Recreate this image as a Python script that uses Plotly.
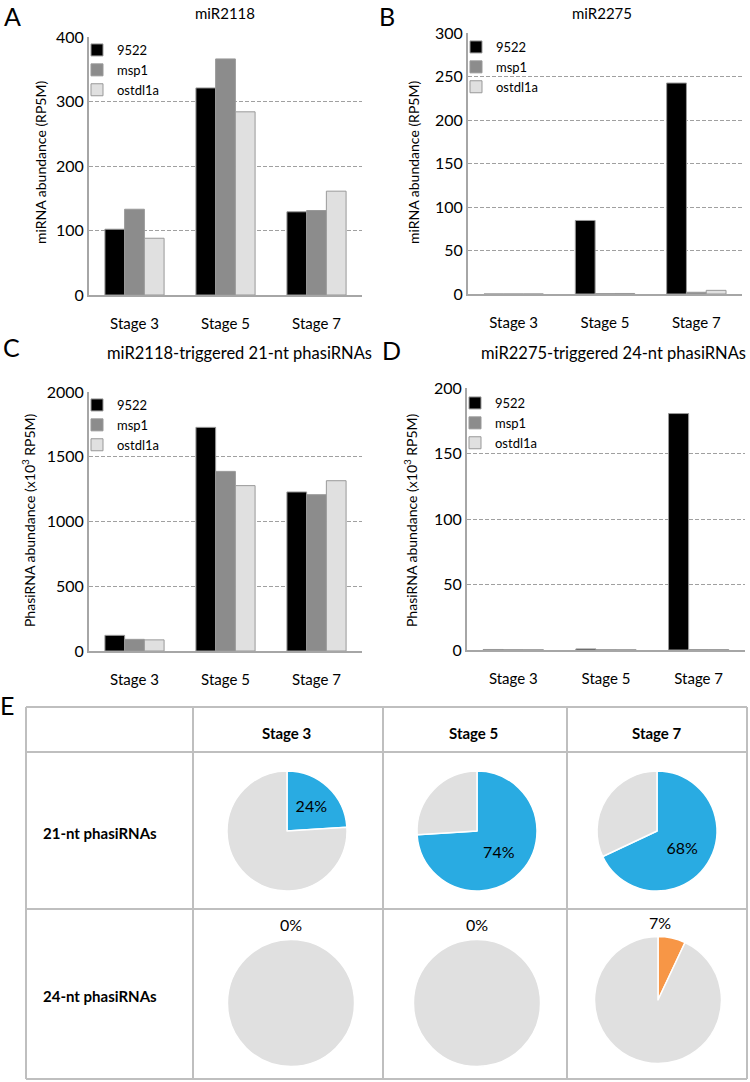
import plotly.graph_objects as go
import math

W, H = 750, 1082
FONT = "Lato"

stages = ["Stage 3", "Stage 5", "Stage 7"]
genotypes = ["9522", "msp1", "ostdl1a"]
bar_colors = ["#000000", "#8c8c8c", "#e0e0e0"]

# Panel A: miR2118 abundance (RP5M)
mir2118 = {"9522": [102, 321, 129], "msp1": [133, 366, 131], "ostdl1a": [88, 284, 161]}
# Panel B: miR2275 abundance (RP5M)
mir2275 = {"9522": [0, 84.5, 242.5], "msp1": [0, 0.4, 2.0], "ostdl1a": [0, 0.6, 4.2]}
# Panel C: 21-nt phasiRNAs (x10^3 RP5M)
phas21 = {"9522": [121, 1727, 1228], "msp1": [90, 1387, 1207], "ostdl1a": [86, 1277, 1315]}
# Panel D: 24-nt phasiRNAs (x10^3 RP5M)
phas24 = {"9522": [0.4, 0.8, 180.5], "msp1": [0.2, 0.2, 0.3], "ostdl1a": [0.2, 0.2, 0.3]}

# Panel E: pie percentages
pct21 = [24, 74, 68]
pct24 = [0, 0, 7]

def px_x(x):
    return x / W

def px_y(y):
    return 1 - y / H

fig = go.Figure()

panels = [
    (mir2118, "", "legend", (89, 362), (37, 295), 400, 100),
    (mir2275, "2", "legend2", (468, 742), (33, 294), 300, 50),
    (phas21, "3", "legend3", (89, 362), (392, 651), 2000, 500),
    (phas24, "4", "legend4", (467, 745), (388, 650), 200, 50),
]

layout_axes = {}
for data, ax, leg, (x0, x1), (y0, y1), ymax, dt in panels:
    for g, c in zip(genotypes, bar_colors):
        fig.add_trace(go.Bar(
            x=stages, y=data[g], name=g, marker=dict(color=c, line=dict(color="#999999", width=1)),
            xaxis="x" + ax, yaxis="y" + ax, legend=leg, showlegend=True, hoverinfo="skip",
        ))
    layout_axes["xaxis" + ax] = dict(
        domain=[px_x(x0), px_x(x1)], anchor="y" + ax, showline=True, linecolor="#a6a6a6", linewidth=2,
        ticks="", tickfont=dict(family=FONT, size=15, color="#000"), ticklabelstandoff=14,
        showgrid=False, automargin=False,
    )
    layout_axes["yaxis" + ax] = dict(
        domain=[px_y(y1), px_y(y0)], anchor="x" + ax, range=[0, ymax], dtick=dt,
        showline=True, linecolor="#a6a6a6", linewidth=2, ticks="",
        tickfont=dict(family=FONT, size=16, color="#000"), automargin=False,
        showgrid=True, gridcolor="#a0a0a0", griddash="4px,2px", gridwidth=1, zeroline=False,
    )

fig.update_layout(**layout_axes)

legend_style = dict(font=dict(family=FONT, size=13, color="#000"), bgcolor="rgba(0,0,0,0)",
                    xanchor="left", yanchor="top", tracegroupgap=0, itemwidth=30)
fig.update_layout(
    legend=dict(x=px_x(77), y=px_y(35), **legend_style),
    legend2=dict(x=px_x(456), y=px_y(32), **legend_style),
    legend3=dict(x=px_x(77), y=px_y(390), **legend_style),
    legend4=dict(x=px_x(455), y=px_y(388), **legend_style),
)

# white patch behind legend B (legend box hides grid line)
shapes = [dict(type="rect", xref="paper", yref="paper", x0=px_x(470), x1=px_x(557), y0=px_y(98),
               y1=px_y(40), fillcolor="white", line=dict(width=0), layer="between")]

# Table lines for panel E
tc = "#bfbfbf"
tx = [26, 193, 383, 567, 747]
ty = [707, 752, 909, 1079]
for x in tx:
    shapes.append(dict(type="line", xref="paper", yref="paper", x0=px_x(x), x1=px_x(x),
                       y0=px_y(ty[0]), y1=px_y(ty[-1]), line=dict(color=tc, width=2)))
for y in ty:
    shapes.append(dict(type="line", xref="paper", yref="paper", x0=px_x(tx[0]), x1=px_x(tx[-1]),
                       y0=px_y(y), y1=px_y(y), line=dict(color=tc, width=2)))

# Pies
blue, grey, orange = "#29abe2", "#e0e0e0", "#f79646"
row1_centers = [(287, 831), (477, 831), (657, 831)]
row2_centers = [(291, 1003), (477, 1003), (658, 1000)]
r1, r2 = 60, 63.5

annotations = []
for v, (cx, cy) in zip(pct21, row1_centers):
    fig.add_trace(go.Pie(
        values=[v, 100 - v], marker=dict(colors=[blue, grey], line=dict(color="white", width=1.5)),
        sort=False, direction="clockwise", rotation=0, showlegend=False,
        text=[f"{v}%", " "], textinfo="text", textposition="inside", insidetextorientation="horizontal",
        textfont=dict(family=FONT, size=16, color="#000"), hoverinfo="skip",
        domain=dict(x=[px_x(cx - r1), px_x(cx + r1)], y=[px_y(cy + r1), px_y(cy - r1)]),
    ))
for v, (cx, cy) in zip(pct24, row2_centers):
    fig.add_trace(go.Pie(
        values=[v, 100 - v], marker=dict(colors=[orange, grey], line=dict(color="white", width=1.5)),
        sort=False, direction="clockwise", rotation=0, showlegend=False, textinfo="none",
        hoverinfo="skip",
        domain=dict(x=[px_x(cx - r2), px_x(cx + r2)], y=[px_y(cy + r2), px_y(cy - r2)]),
    ))
    ang = math.radians(v / 2 * 3.6)
    rr = r2 + 4
    annotations.append(dict(x=px_x(cx + rr * math.sin(ang)), y=px_y(cy - rr * math.cos(ang)),
                            xref="paper", yref="paper", text=f"{v}%", showarrow=False,
                            yanchor="bottom", font=dict(family=FONT, size=16, color="#000")))

def ann(x, y, text, size, bold=False, angle=0, xanchor="center"):
    if bold:
        text = f"<b>{text}</b>"
    annotations.append(dict(x=px_x(x), y=px_y(y), xref="paper", yref="paper", text=text,
                            showarrow=False, textangle=angle, xanchor=xanchor, yanchor="middle",
                            font=dict(family=FONT, size=size, color="#000")))

# Panel letters
ann(12, 16, "A", 25)
ann(387, 16, "B", 25)
ann(11, 347, "C", 25)
ann(392, 350, "D", 25)
ann(7, 705, "E", 25)

# Titles
ann(225, 13, "miR2118", 15)
ann(602, 13, "miR2275", 15)
ann(239, 353, "miR2118-triggered 21-nt phasiRNAs", 16.5)
ann(613, 353, "miR2275-triggered 24-nt phasiRNAs", 16.5)

# Y axis titles
ann(40, 163, "miRNA abundance (RP5M)", 14, angle=-90)
ann(413, 163, "miRNA abundance (RP5M)", 14, angle=-90)
ann(28, 520, "PhasiRNA abundance (x10<sup>3</sup> RP5M)", 14, angle=-90)
ann(410, 520, "PhasiRNA abundance (x10<sup>3</sup> RP5M)", 14, angle=-90)

# Table headers
for s, xc in zip(stages, [286, 473, 657]):
    ann(xc, 733, s, 15, bold=True)
ann(41, 833, "21-nt phasiRNAs", 15, bold=True, xanchor="left")
ann(41, 996, "24-nt phasiRNAs", 15, bold=True, xanchor="left")

fig.update_layout(
    width=W, height=H, margin=dict(l=0, r=0, t=0, b=0, autoexpand=False),
    paper_bgcolor="white", plot_bgcolor="white",
    barmode="group", bargap=0.35, bargroupgap=0,
    font=dict(family=FONT, color="#000"),
    shapes=shapes, annotations=annotations,
)

fig.write_html("out.html", config={"displayModeBar": False},
               post_script="document.body.style.margin='0';")
